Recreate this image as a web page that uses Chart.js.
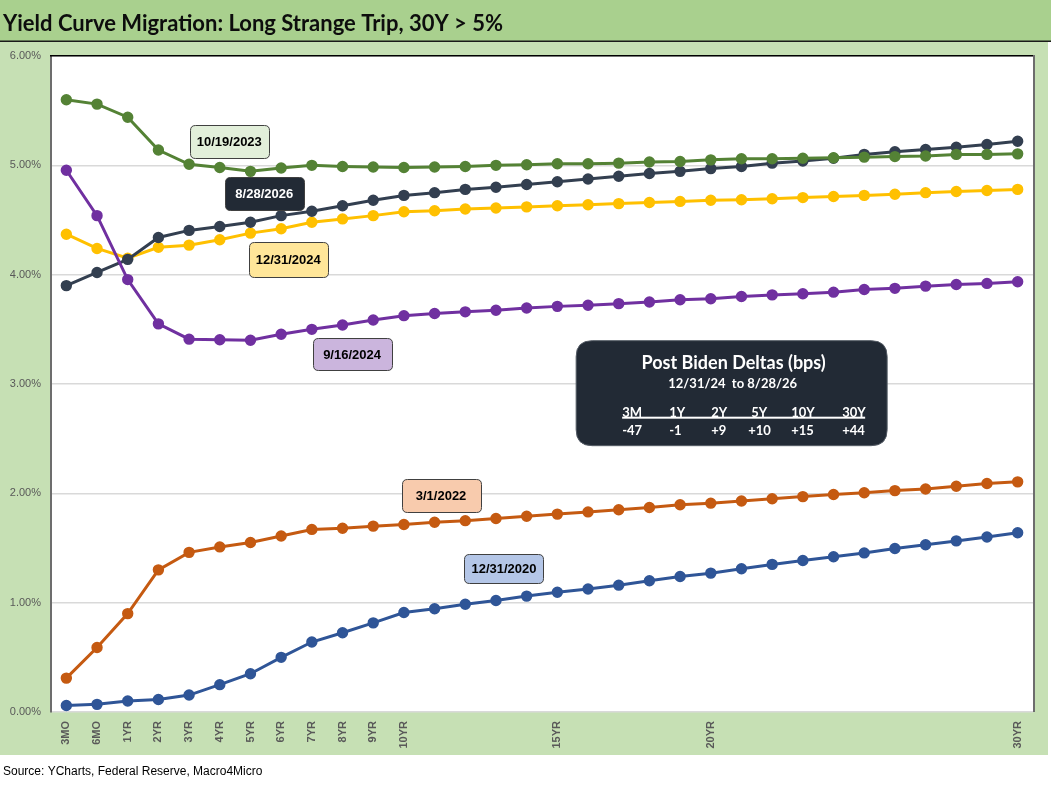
<!DOCTYPE html>
<html>
<head>
<meta charset="utf-8">
<script src="https://cdn.jsdelivr.net/npm/chart.js@4"></script>
<style>
  html, body { margin: 0; padding: 0; background: #ffffff; }
  #wrap { position: relative; width: 1051px; height: 786px; }
</style>
</head>
<body>
<div id="wrap"><canvas id="c"></canvas></div>
<script>
// ---------- DATA ----------
const categories = ['3MO','6MO','1YR','2YR','3YR','4YR','5YR','6YR','7YR','8YR','9YR','10YR',
  '11YR','12YR','13YR','14YR','15YR','16YR','17YR','18YR','19YR','20YR',
  '21YR','22YR','23YR','24YR','25YR','26YR','27YR','28YR','29YR','30YR'];
const shownTickLabels = ['3MO','6MO','1YR','2YR','3YR','4YR','5YR','6YR','7YR','8YR','9YR','10YR','15YR','20YR','30YR'];
const yTickValues = [0, 1, 2, 3, 4, 5, 6];

const seriesNames = ['9/16/2024','10/19/2023','8/28/2026','12/31/2024','3/1/2022','12/31/2020'];

const purple2024 = [4.955,4.54,3.955,3.55,3.41,3.405,3.40,3.455,3.50,3.54,3.585,3.625,
  3.645,3.66,3.675,3.695,3.71,3.72,3.735,3.75,3.77,3.78,3.80,3.815,3.825,3.84,3.865,3.875,3.895,3.91,3.92,3.935];
const green2023 = [5.60,5.56,5.44,5.14,5.01,4.98,4.945,4.975,5.00,4.99,4.985,4.98,
  4.985,4.99,5.00,5.005,5.015,5.015,5.02,5.03,5.035,5.05,5.06,5.06,5.065,5.07,5.075,5.08,5.085,5.10,5.10,5.105];
const navy2026 = [3.90,4.02,4.14,4.34,4.405,4.44,4.48,4.54,4.58,4.63,4.68,4.725,
  4.75,4.78,4.80,4.825,4.85,4.875,4.90,4.925,4.945,4.97,4.99,5.02,5.04,5.065,5.10,5.125,5.145,5.165,5.19,5.22];
const yellow2024 = [4.37,4.24,4.15,4.25,4.27,4.32,4.38,4.42,4.48,4.51,4.54,4.575,
  4.585,4.60,4.61,4.62,4.63,4.64,4.65,4.66,4.67,4.68,4.685,4.695,4.705,4.715,4.725,4.735,4.75,4.76,4.77,4.78];
const orange2022 = [0.31,0.59,0.90,1.30,1.46,1.51,1.55,1.61,1.67,1.68,1.70,1.715,
  1.735,1.75,1.77,1.79,1.81,1.83,1.85,1.87,1.895,1.91,1.93,1.95,1.97,1.99,2.005,2.025,2.04,2.065,2.09,2.105];
const blue2020 = [0.06,0.07,0.10,0.115,0.155,0.25,0.35,0.50,0.64,0.725,0.815,0.91,
  0.945,0.985,1.02,1.06,1.095,1.125,1.16,1.20,1.24,1.27,1.31,1.35,1.385,1.42,1.455,1.495,1.53,1.565,1.60,1.64];

const deltaTenors = ['3M','1Y','2Y','5Y','10Y','30Y'];
const deltaValues = ['-47','-1','+9','+10','+15','+44'];

const titleText = 'Yield Curve Migration: Long Strange Trip, 30Y > 5%';
const sourceText = 'Source: YCharts, Federal Reserve, Macro4Micro';
const deltaTitle = 'Post Biden Deltas (bps)';
const deltaSubtitle = '12/31/24  to 8/28/26';

// callout anchors in data coordinates (category index, yield)
const callouts = [
  { text: '10/19/2023', xi: 5.31, yv: 5.22, w: 79, h: 33, fill: '#e2efda', color: '#000000' },
  { text: '8/28/2026',  xi: 6.45, yv: 4.745, w: 79, h: 33, fill: '#222a35', color: '#ffffff' },
  { text: '12/31/2024', xi: 7.23, yv: 4.14, w: 79, h: 35, fill: '#ffe699', color: '#000000' },
  { text: '9/16/2024',  xi: 9.31, yv: 3.275, w: 79, h: 32, fill: '#cbb5dd', color: '#000000' },
  { text: '3/1/2022',   xi: 12.21, yv: 1.98, w: 79, h: 33, fill: '#f8cbad', color: '#000000' },
  { text: '12/31/2020', xi: 14.26, yv: 1.31, w: 79, h: 29, fill: '#b4c6e7', color: '#000000' }
];
const deltaBox = { xi: 21.68, yv: 2.916, w: 311, h: 105 };

// ---------- helpers ----------
function roundRect(ctx, x, y, w, h, r) {
  ctx.beginPath();
  ctx.moveTo(x + r, y);
  ctx.lineTo(x + w - r, y);
  ctx.quadraticCurveTo(x + w, y, x + w, y + r);
  ctx.lineTo(x + w, y + h - r);
  ctx.quadraticCurveTo(x + w, y + h, x + w - r, y + h);
  ctx.lineTo(x + r, y + h);
  ctx.quadraticCurveTo(x, y + h, x, y + h - r);
  ctx.lineTo(x, y + r);
  ctx.quadraticCurveTo(x, y, x + r, y);
  ctx.closePath();
}

const framePlugin = {
  id: 'frame',
  beforeDraw(chart) {
    const ctx = chart.ctx, a = chart.chartArea;
    const W = chart.width;
    ctx.save();
    ctx.fillStyle = '#ffffff';
    ctx.fillRect(0, 0, W, chart.height);
    // title band
    ctx.fillStyle = '#a9d08e';
    ctx.fillRect(0, 0, W, 41);
    ctx.fillStyle = '#1a1a1a';
    ctx.fillRect(0, 40.5, W, 1.5);
    // outer chart green
    ctx.fillStyle = '#c6e0b4';
    ctx.fillRect(0, 42, 1048, 755 - 42);
    // plot area
    ctx.fillStyle = '#ffffff';
    ctx.fillRect(a.left, a.top, a.right - a.left, a.bottom - a.top);
    // title
    ctx.fillStyle = '#0d0d0d';
    ctx.font = 'bold 22px Lato, "Open Sans", sans-serif';
    ctx.textBaseline = 'alphabetic';
    ctx.textAlign = 'left';
    ctx.fillText(titleText, 3, 31);
    // source
    ctx.font = '12px "Liberation Sans", Arial, sans-serif';
    ctx.fillStyle = '#000000';
    ctx.fillText(sourceText, 3, 775);
    ctx.restore();
  },
  afterDraw(chart) {
    const ctx = chart.ctx, a = chart.chartArea;
    const xs = chart.scales.x, ys = chart.scales.y;
    ctx.save();
    // top & right borders of plot
    ctx.fillStyle = '#000000';
    ctx.fillRect(a.left - 1, a.top - 1, a.right - a.left + 1, 1.5);
    ctx.fillStyle = '#6d6d6d';
    ctx.fillRect(a.right, a.top - 1, 2, a.bottom - a.top + 1);

    // callout boxes
    ctx.font = 'bold 13px "Liberation Sans Narrow", "Liberation Sans", Arial, sans-serif';
    ctx.textAlign = 'center';
    ctx.textBaseline = 'middle';
    callouts.forEach(c => {
      const cx = xs.getPixelForValue(c.xi), cy = ys.getPixelForValue(c.yv);
      const x = Math.round(cx - c.w / 2) + 0.5, y = Math.round(cy - c.h / 2) + 0.5;
      roundRect(ctx, x, y, c.w, c.h, 5);
      ctx.fillStyle = c.fill;
      ctx.fill();
      ctx.lineWidth = 1;
      ctx.strokeStyle = '#404040';
      ctx.stroke();
      ctx.fillStyle = c.color;
      ctx.fillText(c.text, cx, cy + 1);
    });

    // deltas box
    const bx = xs.getPixelForValue(deltaBox.xi), by = ys.getPixelForValue(deltaBox.yv);
    const left = bx - deltaBox.w / 2, top = by - deltaBox.h / 2;
    roundRect(ctx, left, top, deltaBox.w, deltaBox.h, 16);
    ctx.fillStyle = '#222a35';
    ctx.fill();
    ctx.lineWidth = 1;
    ctx.strokeStyle = '#555c66';
    ctx.stroke();
    ctx.fillStyle = '#ffffff';
    ctx.textAlign = 'center';
    ctx.textBaseline = 'alphabetic';
    ctx.font = 'bold 18px Lato, "Open Sans", sans-serif';
    ctx.fillText(deltaTitle, bx + 2, top + 28);
    ctx.font = 'bold 13px Lato, "Open Sans", sans-serif';
    ctx.fillText(deltaSubtitle, bx + 1, top + 47);
    const colX = [46, 93, 135, 175, 215, 266];
    ctx.textAlign = 'left';
    deltaTenors.forEach((t, i) => ctx.fillText(t, left + colX[i], top + 76));
    ctx.fillRect(left + 46, top + 76, 243, 2);
    deltaValues.forEach((v, i) => ctx.fillText(v, left + colX[i] - (v.length > 2 && i === 3 ? 3 : 0), top + 94));
    ctx.restore();
  }
};

const mk = (label, data, color) => ({
  label, data,
  borderColor: color, backgroundColor: color,
  pointBackgroundColor: color, pointBorderColor: color,
  borderWidth: 3, pointRadius: 4.2, pointHoverRadius: 4.2, tension: 0
});

new Chart(document.getElementById('c'), {
  type: 'line',
  data: {
    labels: categories,
    datasets: [
      mk(seriesNames[0], purple2024, '#7030a0'),
      mk(seriesNames[1], green2023, '#548235'),
      mk(seriesNames[2], navy2026, '#333f50'),
      mk(seriesNames[3], yellow2024, '#ffc000'),
      mk(seriesNames[4], orange2022, '#c55a11'),
      mk(seriesNames[5], blue2020, '#2f5597')
    ]
  },
  options: {
    responsive: true,
    maintainAspectRatio: false,
    animation: false,
    devicePixelRatio: 1,
    layout: { padding: { left: 0, top: 56, right: 18, bottom: 31 } },
    plugins: { legend: { display: false }, tooltip: { enabled: false } },
    scales: {
      x: {
        offset: true,
        grid: { display: false, drawTicks: false },
        border: { display: false },
        ticks: {
          autoSkip: false, minRotation: 90, maxRotation: 90, padding: 9,
          color: '#595959',
          font: { family: '"Liberation Sans", Arial, sans-serif', size: 11, weight: 'bold' },
          callback: function (v, i) { const l = categories[i]; return shownTickLabels.includes(l) ? l : ''; }
        },
        afterFit: s => { s.height = 43; }
      },
      y: {
        min: 0, max: 6,
        afterBuildTicks: s => { s.ticks = yTickValues.map(v => ({ value: v })); },
        grid: { color: '#d9d9d9', lineWidth: 1.5, drawTicks: false },
        border: { display: true, color: '#6d6d6d', width: 2 },
        ticks: {
          padding: 10, color: '#595959',
          font: { family: '"Liberation Sans", Arial, sans-serif', size: 11 },
          callback: v => v.toFixed(2) + '%'
        },
        afterFit: s => { s.width = 51; }
      }
    }
  },
  plugins: [framePlugin]
});
</script>
</body>
</html>
